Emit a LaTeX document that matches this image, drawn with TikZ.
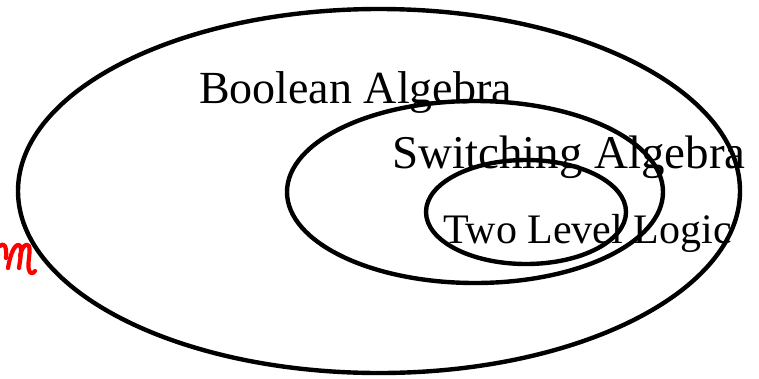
\documentclass[tikz,border=0pt]{standalone}
\usepackage{fontspec}
\setmainfont{Liberation Serif}
\begin{document}
\begin{tikzpicture}[x=1pt,y=-1pt,
  ring/.style={draw=black,line width=4.4pt},
  label/.style={anchor=base west,inner sep=0pt,outer sep=0pt},
  scrawl/.style={draw=red,line width=4.2pt,line cap=round,line join=round}]
\useasboundingbox (0,0) rectangle (759,378);
\node[label,font=\fontsize{46}{46}\selectfont] (bool) at (199,103) {Boolean Algebra};
\node[label,font=\fontsize{47}{47}\selectfont] (sw) at (392,168) {Switching Algebra};
\node[label,font=\fontsize{42}{42}\selectfont] (two) at (443,243) {Two Level Logic};
\draw[ring] (379,191) ellipse [x radius=361, y radius=182];
\draw[ring] (475,192) ellipse [x radius=188, y radius=91];
\draw[ring] (526,212) ellipse [x radius=100, y radius=52];
% red handwritten fragment at the left edge
\draw[scrawl] (0,246) .. controls (4,242) and (7,246) .. (6,258);
\draw[scrawl] (8,268) .. controls (10,256) and (14,244) .. (19,245)
  .. controls (23,247) and (20,260) .. (19,268);
\draw[scrawl] (20,256) .. controls (22,247) and (26,242) .. (29,246)
  .. controls (31,252) and (27,264) .. (29,270)
  .. controls (30,274) and (33,274) .. (35,271);
\end{tikzpicture}
\end{document}
